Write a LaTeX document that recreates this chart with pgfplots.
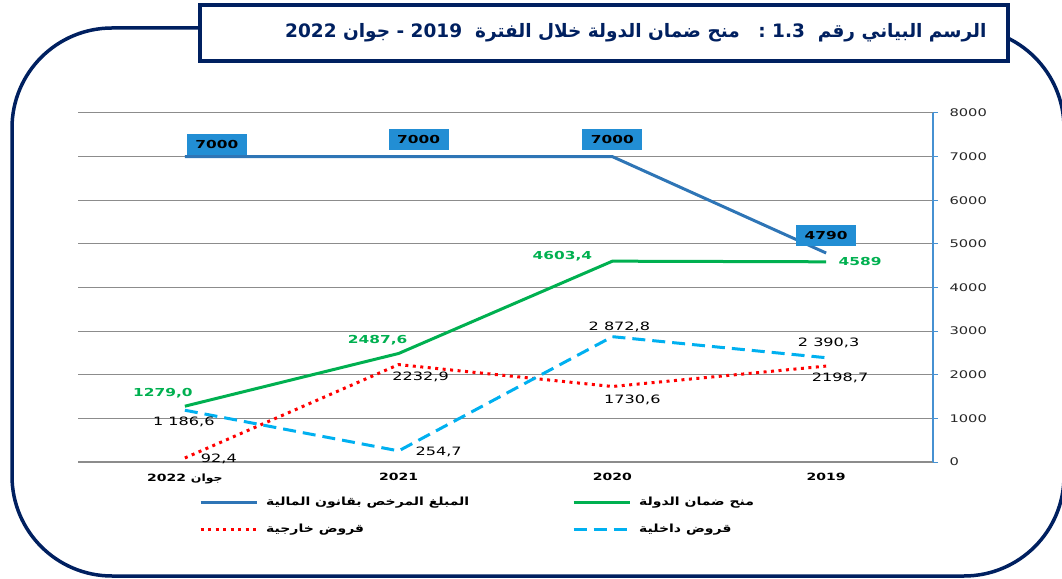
\documentclass[border=0pt]{standalone}
\usepackage{fontspec}
\usepackage{pgfplots}
\pgfplotsset{compat=1.18}
\TeXXeTstate=1
\setmainfont{DejaVu Sans}[FakeStretch=1.4]
\newfontfamily\arabicfont[Script=Arabic,FakeStretch=1.25]{DejaVu Sans}
\newfontfamily\titlefont[Script=Arabic]{DejaVu Sans}

\definecolor{navy}{RGB}{0,32,96}
\definecolor{lineblue}{RGB}{46,117,182}
\definecolor{boxblue}{RGB}{34,142,212}
\definecolor{lgreen}{RGB}{0,176,80}
\definecolor{lred}{RGB}{255,0,0}
\definecolor{lcyan}{RGB}{0,176,240}
\definecolor{gridgray}{RGB}{140,140,140}
\definecolor{yaxblue}{RGB}{70,145,210}

\begin{document}
\begin{tikzpicture}[x=1pt,y=1pt]
\useasboundingbox (0,0) rectangle (1062,578);
\clip (0,0) rectangle (1062,578);
\draw[navy,line width=3.5pt,rounded corners=100pt] (12,2) rectangle (1064,550);

\begin{axis}[at={(78pt,116pt)},anchor=south west,scale only axis,
  width=855pt,height=349pt,clip=false,
  xmin=-0.5,xmax=3.5,ymin=0,ymax=8000,
  axis x line*=bottom,axis y line*=right,
  x axis line style={draw=gridgray,line width=1.2pt},
  y axis line style={draw=yaxblue,line width=1.2pt},
  tick align=outside,major tick length=5pt,
  xtick={0,1,2,3},xtick style={draw=none},
  xticklabels={{\beginR{\arabicfont جوان} 2022\endR},2021,2020,2019},
  xticklabel style={font=\fontsize{10}{12}\selectfont\bfseries,text=black,yshift=-3pt},
  extra x ticks={-0.5,0.5,1.5,2.5,3.5},extra x tick labels={},
  extra x tick style={tick style={draw=gridgray,line width=1pt},grid=none},
  ytick={0,1000,2000,3000,4000,5000,6000,7000,8000},
  yticklabels={0,1000,2000,3000,4000,5000,6000,7000,8000},
  ytick style={draw=yaxblue,line width=1pt},
  yticklabel style={font=\fontsize{10.5}{12}\selectfont,text=black!85,anchor=west,xshift=8pt},
  ymajorgrids,grid style={gridgray,line width=1pt},
  legend columns=2,legend cell align=left,
  legend image code/.code={\draw[#1] (0pt,0pt) -- (56pt,0pt); \path (62pt,0pt);},
  legend style={at={(0.1415,-0.093)},anchor=north west,draw=none,fill=none,
    inner xsep=0pt,inner ysep=0pt,row sep=11pt,
    nodes={inner sep=2pt,text height=9pt,text depth=3pt},
    font=\arabicfont\fontsize{11.2}{13}\selectfont\bfseries,
    /tikz/every even column/.append style={column sep=104pt}},
]
\addplot[lineblue,line width=3pt] coordinates {(0,7000) (1,7000) (2,7000) (3,4790)};
\addlegendentry{\makebox[200pt][l]{\beginR المبلغ المرخص بقانون المالية\endR}}
\addplot[lgreen,line width=3pt] coordinates {(0,1279.0) (1,2487.6) (2,4603.4) (3,4589)};
\addlegendentry{\beginR منح ضمان الدولة\endR}
\addplot[lred,line width=3pt,dash pattern=on 3pt off 4.5pt] coordinates {(0,92.4) (1,2232.9) (2,1730.6) (3,2198.7)};
\addlegendentry{\makebox[200pt][l]{\beginR قروض خارجية\endR}}
\addplot[lcyan,line width=3pt,dash pattern=on 13pt off 7pt] coordinates {(0,1186.6) (1,254.7) (2,2872.8) (3,2390.3)};
\addlegendentry{\beginR قروض داخلية\endR}

% labels of the authorised amount
\tikzset{box/.style={fill=boxblue,inner sep=0pt,minimum width=60pt,minimum height=21pt,
  font=\fontsize{11}{13}\selectfont\bfseries,text=black},
  glab/.style={text=lgreen,font=\fontsize{11}{13}\selectfont\bfseries},
  klab/.style={text=black,font=\fontsize{11.5}{13}\selectfont}}
\node[box,xshift=32pt,yshift=12.5pt] at (0,7000) {7000};
\node[box,xshift=20pt,yshift=17.5pt] at (1,7000) {7000};
\node[box,yshift=17.5pt] at (2,7000) {7000};
\node[box,yshift=17.5pt] at (3,4790) {4790};
% state guarantees
\node[glab,xshift=-22pt,yshift=13.5pt] at (0,1279.0) {1279,0};
\node[glab,xshift=-21pt,yshift=13pt] at (1,2487.6) {2487,6};
\node[glab,xshift=-50pt,yshift=5pt] at (2,4603.4) {4603,4};
\node[glab,xshift=34pt] at (3,4589) {4589};
% loans
\node[klab,xshift=-1pt,yshift=-12pt] at (0,1186.6) {1 186,6};
\node[klab,xshift=34pt,yshift=-0.5pt] at (0,92.4) {92,4};
\node[klab,xshift=22pt,yshift=-12pt] at (1,2232.9) {2232,9};
\node[klab,xshift=40pt,yshift=-1pt] at (1,254.7) {254,7};
\node[klab,xshift=7pt,yshift=10pt] at (2,2872.8) {2 872,8};
\node[klab,xshift=20pt,yshift=-13pt] at (2,1730.6) {1730,6};
\node[klab,xshift=2.5pt,yshift=15pt] at (3,2390.3) {2 390,3};
\node[klab,xshift=14pt,yshift=-12pt] at (3,2198.7) {2198,7};
\end{axis}

\draw[navy,line width=3.5pt,fill=white] (200,517) rectangle (1008,573);
\node[anchor=east,text=navy,font=\titlefont\fontsize{18.5}{22}\selectfont\bfseries] at (990,545)
  {\beginR الرسم البياني رقم\ \ 1.3\ :\quad منح ضمان الدولة خلال الفترة\ \ 2019 - جوان 2022\endR};
\end{tikzpicture}
\end{document}
